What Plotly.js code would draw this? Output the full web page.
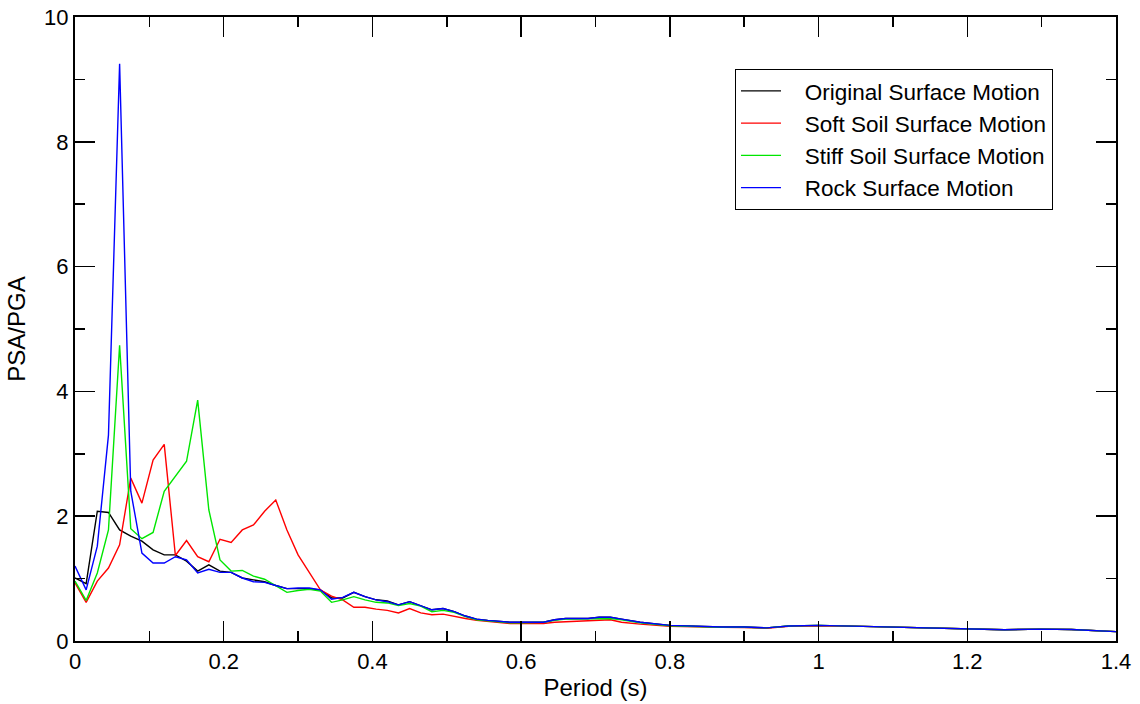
<!DOCTYPE html>
<html>
<head>
<meta charset="utf-8">
<script src="https://cdn.plot.ly/plotly-3.0.1.min.js"></script>
<style>html,body{margin:0;padding:0;background:#fff;}#chart{width:1140px;height:704px;}</style>
</head>
<body>
<div id="chart"></div>
<script>
const periods = [0,0.015,0.03,0.045,0.06,0.075,0.09,0.105,0.12,0.135,0.15,0.165,0.18,0.195,0.21,0.225,0.24,0.255,0.27,0.285,0.3,0.315,0.33,0.345,0.36,0.375,0.39,0.405,0.42,0.435,0.45,0.465,0.48,0.495,0.51,0.525,0.54,0.555,0.57,0.585,0.6,0.615,0.63,0.645,0.66,0.675,0.69,0.705,0.72,0.735,
  0.76,0.80,0.84,0.87,0.90,0.93,0.96,1.0,1.06,1.12,1.16,1.2,1.25,1.3,1.34,1.4];

const original = [1.01,0.92,2.08,2.06,1.78,1.68,1.60,1.46,1.38,1.38,1.28,1.12,1.22,1.12,1.10,1.01,0.98,0.95,0.89,0.84,0.84,0.84,0.82,0.69,0.69,0.78,0.71,0.66,0.64,0.58,0.63,0.57,0.50,0.52,0.47,0.40,0.35,0.33,0.31,0.30,0.30,0.30,0.30,0.34,0.36,0.36,0.36,0.38,0.38,0.35,
  0.30,0.25,0.23,0.225,0.225,0.21,0.24,0.25,0.235,0.22,0.21,0.195,0.18,0.19,0.185,0.15];

const softSoil = [0.93,0.62,0.96,1.17,1.54,2.61,2.21,2.90,3.15,1.37,1.61,1.35,1.27,1.63,1.58,1.78,1.86,2.08,2.26,1.78,1.38,1.09,0.82,0.72,0.66,0.54,0.54,0.51,0.49,0.45,0.52,0.45,0.42,0.43,0.39,0.36,0.33,0.31,0.29,0.28,0.28,0.28,0.28,0.30,0.31,0.32,0.32,0.34,0.34,0.30,
  0.27,0.235,0.22,0.22,0.215,0.205,0.235,0.245,0.235,0.22,0.21,0.195,0.18,0.19,0.185,0.15];

const stiffSoil = [0.96,0.65,1.09,1.78,4.74,1.80,1.64,1.74,2.40,2.64,2.88,3.86,2.10,1.30,1.12,1.13,1.04,0.99,0.88,0.78,0.81,0.83,0.80,0.62,0.66,0.71,0.66,0.62,0.61,0.57,0.60,0.56,0.47,0.49,0.46,0.39,0.34,0.32,0.30,0.29,0.29,0.30,0.30,0.33,0.35,0.35,0.35,0.36,0.36,0.34,
  0.29,0.245,0.225,0.22,0.22,0.21,0.24,0.25,0.235,0.22,0.21,0.195,0.18,0.19,0.185,0.15];

const rock = [1.20,0.82,1.52,3.30,9.25,2.40,1.41,1.25,1.25,1.35,1.30,1.09,1.15,1.10,1.10,1.01,0.95,0.94,0.89,0.84,0.85,0.85,0.82,0.67,0.70,0.78,0.71,0.66,0.63,0.58,0.63,0.57,0.50,0.52,0.47,0.40,0.35,0.33,0.31,0.30,0.30,0.30,0.30,0.34,0.36,0.36,0.36,0.38,0.38,0.35,
  0.30,0.25,0.23,0.225,0.225,0.21,0.24,0.25,0.235,0.22,0.21,0.195,0.18,0.19,0.185,0.15];

const seriesNames = ["Original Surface Motion","Soft Soil Surface Motion","Stiff Soil Surface Motion","Rock Surface Motion"];
const seriesColors = ["#000000","#ff0000","#00e600","#0000ff"];
const seriesData = [original, softSoil, stiffSoil, rock];

const pad = "\u00a0\u00a0\u00a0";
const traces = seriesData.map((y, k) => ({
  x: periods, y: y, type: "scatter", mode: "lines",
  name: pad + seriesNames[k],
  line: {color: seriesColors[k], width: 1.4}
}));

const fam = "Liberation Sans, Arial, sans-serif";
const tickFont = {family: fam, size: 22, color: "#000"};
const titleFont = {family: fam, size: 24, color: "#000"};

const layout = {
  width: 1140, height: 704,
  margin: {l: 75, r: 24, t: 17, b: 63},
  paper_bgcolor: "#fff", plot_bgcolor: "#fff",
  font: tickFont,
  showlegend: true,
  legend: {
    x: 0.634, y: 0.917, xanchor: "left", yanchor: "top",
    bordercolor: "#000", borderwidth: 1, bgcolor: "#fff",
    font: {family: fam, size: 22.5, color: "#000"},
    itemwidth: 40, tracegroupgap: 0
  },
  xaxis: {
    range: [0, 1.4], dtick: 0.2, tick0: 0,
    showgrid: false, zeroline: false,
    showline: true, linecolor: "#000", linewidth: 2, mirror: "ticks",
    ticks: "inside", ticklen: 20, tickwidth: 1.5, tickcolor: "#000",
    minor: {dtick: 0.1, ticks: "inside", ticklen: 10, tickwidth: 1.5, tickcolor: "#000", showgrid: false},
    tickfont: tickFont,
    title: {text: "Period (s)", font: titleFont, standoff: 6}
  },
  yaxis: {
    range: [0, 10], dtick: 2, tick0: 0,
    showgrid: false, zeroline: false,
    showline: true, linecolor: "#000", linewidth: 2, mirror: "ticks",
    ticks: "inside", ticklen: 20, tickwidth: 1.5, tickcolor: "#000",
    minor: {dtick: 1, ticks: "inside", ticklen: 10, tickwidth: 1.5, tickcolor: "#000", showgrid: false},
    tickfont: tickFont,
    title: {text: "PSA/PGA", font: titleFont, standoff: 12}
  }
};

Plotly.newPlot("chart", traces, layout, {displayModeBar: false, staticPlot: true});
</script>
</body>
</html>
